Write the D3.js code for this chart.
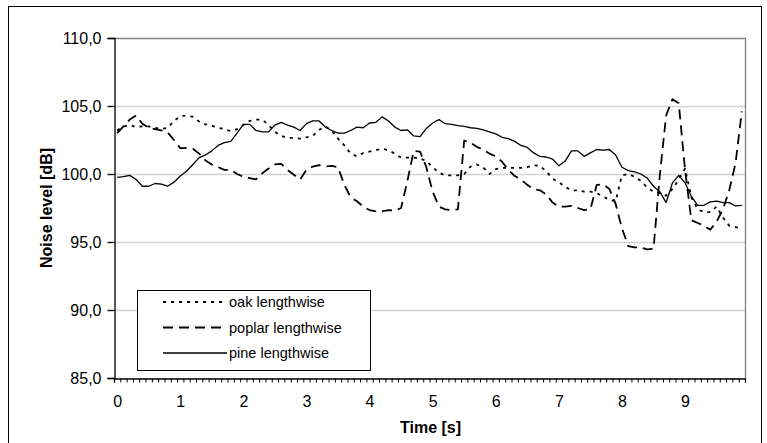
<!DOCTYPE html>
<html>
<head>
<meta charset="utf-8">
<script src="https://cdn.jsdelivr.net/npm/d3@7"></script>
<style>
  body { margin: 0; background: #fff; }
  text { font-family: "Liberation Sans", Arial, sans-serif; fill: #000; }
</style>
</head>
<body>
<script>
// categories: one sample every 0.1 s
var times = d3.range(100).map(function(i) { return i / 10; });
var xLabels = [0, 1, 2, 3, 4, 5, 6, 7, 8, 9];
var yTicks = [85, 90, 95, 100, 105, 110];

// noise level [dB]
var oak = [
  103.2, 103.5, 103.6, 103.45, 103.5, 103.5, 103.4, 103.3, 103.4, 103.9,
  104.25, 104.3, 104.2, 103.85, 103.65, 103.55, 103.4, 103.3, 103.15, 103.3,
  103.6, 103.9, 104.0, 104.0, 103.6, 103.1, 102.8, 102.65, 102.65, 102.6,
  102.7, 102.8, 103.25, 103.5, 103.2, 102.6, 102.1, 101.5, 101.3, 101.55,
  101.65, 101.75, 101.85, 101.75, 101.5, 101.2, 101.2, 101.2, 101.15, 100.95,
  100.5, 100.1, 99.9, 99.9, 99.9, 100.0, 100.55, 100.7, 100.5, 100.0,
  100.35, 100.45, 100.45, 100.45, 100.45, 100.5, 100.65, 100.6, 100.2, 99.65,
  99.4, 99.05, 98.8, 98.8, 98.7, 98.7, 98.6, 98.35, 98.1, 98.0,
  99.9, 100.0, 99.8, 99.5, 99.0, 98.7, 98.6, 98.4, 98.9, 99.6,
  100.4, 98.3, 97.4, 97.2, 97.2, 97.6, 96.8, 96.2, 96.1, 96.0
];
var poplar = [
  103.0, 103.5, 104.0, 104.3, 103.7, 103.4, 103.3, 103.2, 103.05, 102.5,
  101.9, 101.9, 101.85, 101.5, 101.0, 100.7, 100.5, 100.3, 100.3, 100.0,
  99.8, 99.7, 99.6, 100.05, 100.4, 100.7, 100.75, 100.3, 99.95, 99.6,
  100.3, 100.55, 100.65, 100.55, 100.6, 100.5, 99.2, 98.3, 98.0, 97.6,
  97.35, 97.25, 97.25, 97.35, 97.3, 97.5, 99.5, 101.7, 101.65, 100.5,
  98.7, 97.6, 97.4, 97.35, 97.4, 102.45, 102.3, 102.0, 101.8, 101.5,
  101.3, 100.9, 100.3, 99.85, 99.6, 99.2, 98.9, 98.8, 98.5, 97.9,
  97.6, 97.6, 97.65, 97.5, 97.35, 97.4, 99.2, 99.25, 98.9, 97.8,
  96.0, 94.7, 94.6, 94.6, 94.45, 94.5, 99.9, 104.3, 105.5, 105.2,
  100.3, 96.6, 96.4, 96.2, 95.9, 96.5, 97.4, 98.8, 100.8, 104.6
];
var pine = [
  99.75, 99.8, 99.9, 99.6, 99.1, 99.1, 99.3, 99.25, 99.1, 99.4,
  99.85, 100.2, 100.7, 101.2, 101.4, 101.7, 102.1, 102.3, 102.4, 103.0,
  103.65, 103.65, 103.2, 103.1, 103.1, 103.6, 103.8, 103.6, 103.45, 103.2,
  103.7, 103.9, 103.9, 103.45, 103.2, 103.0, 103.0, 103.2, 103.45, 103.4,
  103.75, 103.8, 104.2, 103.9, 103.45, 103.2, 103.25, 102.8, 102.75, 103.35,
  103.75, 104.0, 103.7, 103.65, 103.55, 103.5, 103.4, 103.35, 103.25, 103.1,
  102.95, 102.7, 102.6, 102.4, 102.1, 101.95, 101.55, 101.3, 101.25, 101.1,
  100.6, 100.95, 101.7, 101.7, 101.3, 101.55, 101.8, 101.75, 101.8, 101.4,
  100.5, 100.25, 100.15, 100.0, 99.7, 99.1, 98.7, 97.9, 99.35, 99.9,
  99.35, 98.35, 97.7, 97.7, 97.95, 98.0, 97.9, 97.9, 97.65, 97.7
];

var seriesNames = ["oak lengthwise", "poplar lengthwise", "pine lengthwise"];
var seriesData = [oak, poplar, pine];
var seriesDash = ["3,5", "10,6", null];
var seriesWidth = [1.8, 1.8, 1.3];

var W = 767, H = 443;
var plot = {left: 114, right: 745, top: 38, bottom: 378};

var svg = d3.select("body").append("svg")
  .attr("width", W).attr("height", H);

// outer frame
svg.append("rect")
  .attr("x", 8.5).attr("y", 6.5)
  .attr("width", 753).attr("height", 440)
  .attr("fill", "#fff").attr("stroke", "#000").attr("stroke-width", 1);

// escalas: eje de categorias, cada muestra ocupa 0.1 s
var x = d3.scaleLinear().domain([-0.05, 9.95]).range([plot.left, plot.right]);
var y = d3.scaleLinear().domain([85, 110]).range([plot.bottom, plot.top]);

var comma = d3.formatLocale({decimal: ",", thousands: ".", grouping: [3], currency: ["", ""]});
var fmt = comma.format(".1f");

// grid lines
svg.append("g")
  .attr("class", "grid")
  .attr("transform", "translate(" + plot.left + ",0)")
  .call(d3.axisLeft(y).tickValues(yTicks.slice(1, 5)).tickSize(-(plot.right - plot.left)).tickFormat(""))
  .call(function(g) { g.select(".domain").remove(); })
  .selectAll("line").attr("stroke", "#d4d4d4").attr("stroke-width", 1.3);

// top and right border of plot area
svg.append("path")
  .attr("d", "M" + plot.left + "," + (plot.top + 0.5) + "H" + (plot.right + 0.5) + "V" + plot.bottom)
  .attr("fill", "none").attr("stroke", "#808080").attr("stroke-width", 1.3);

// y axis
var gy = svg.append("g")
  .attr("transform", "translate(" + (plot.left + 0.5) + ",0)")
  .call(d3.axisLeft(y).tickValues(yTicks).tickSize(7).tickPadding(6).tickFormat(fmt));
gy.select(".domain").attr("stroke", "#000").attr("stroke-width", 1.3);
gy.selectAll(".tick line").attr("stroke", "#000").attr("stroke-width", 1.3);
gy.selectAll(".tick text").style("font-size", "16px").attr("font-family", null);

// x axis: tick marks between categories, labels every second
var boundaries = d3.range(101).map(function(i) { return -0.05 + i / 10; });
var gx = svg.append("g")
  .attr("transform", "translate(0," + (plot.bottom + 0.5) + ")")
  .call(d3.axisBottom(x).tickValues(boundaries).tickSize(4).tickFormat(""));
gx.select(".domain").attr("stroke", "#000").attr("stroke-width", 1.3);
gx.selectAll(".tick line").attr("stroke", "#000");

var gxl = svg.append("g")
  .attr("transform", "translate(0," + (plot.bottom + 0.5) + ")")
  .call(d3.axisBottom(x).tickValues(xLabels).tickSize(0).tickPadding(17).tickFormat(d3.format("d")));
gxl.select(".domain").remove();
gxl.selectAll(".tick text").style("font-size", "16px").attr("font-family", null);

// lines
var line = d3.line()
  .x(function(d, i) { return x(times[i]); })
  .y(function(d) { return y(d); });

seriesData.forEach(function(s, k) {
  svg.append("path")
    .datum(s)
    .attr("d", line)
    .attr("fill", "none")
    .attr("stroke", "#000")
    .attr("stroke-width", seriesWidth[k])
    .attr("stroke-linejoin", "round")
    .attr("stroke-dasharray", seriesDash[k]);
});

// axis titles
svg.append("text")
  .attr("x", (plot.left + plot.right) / 2 + 1).attr("y", 433)
  .attr("text-anchor", "middle")
  .style("font-size", "16px").style("font-weight", "bold")
  .text("Time [s]");

svg.append("text")
  .attr("transform", "translate(52," + (plot.top + plot.bottom) / 2 + ") rotate(-90)")
  .attr("text-anchor", "middle")
  .style("font-size", "16px").style("font-weight", "bold")
  .text("Noise level [dB]");

// legend
var legend = svg.append("g").attr("transform", "translate(137,290)");
legend.append("rect")
  .attr("x", 0.5).attr("y", 0.5).attr("width", 233).attr("height", 80)
  .attr("fill", "#fff").attr("stroke", "#000");
seriesNames.forEach(function(n, k) {
  var yy = 12 + k * 25.5;
  legend.append("line")
    .attr("x1", 26).attr("x2", 90).attr("y1", yy).attr("y2", yy)
    .attr("stroke", "#000")
    .attr("stroke-width", seriesWidth[k])
    .attr("stroke-dasharray", seriesDash[k]);
  legend.append("text")
    .attr("x", 92).attr("y", yy).attr("dy", "0.35em")
    .style("font-size", "14.5px")
    .text(n);
});
</script>
</body>
</html>
